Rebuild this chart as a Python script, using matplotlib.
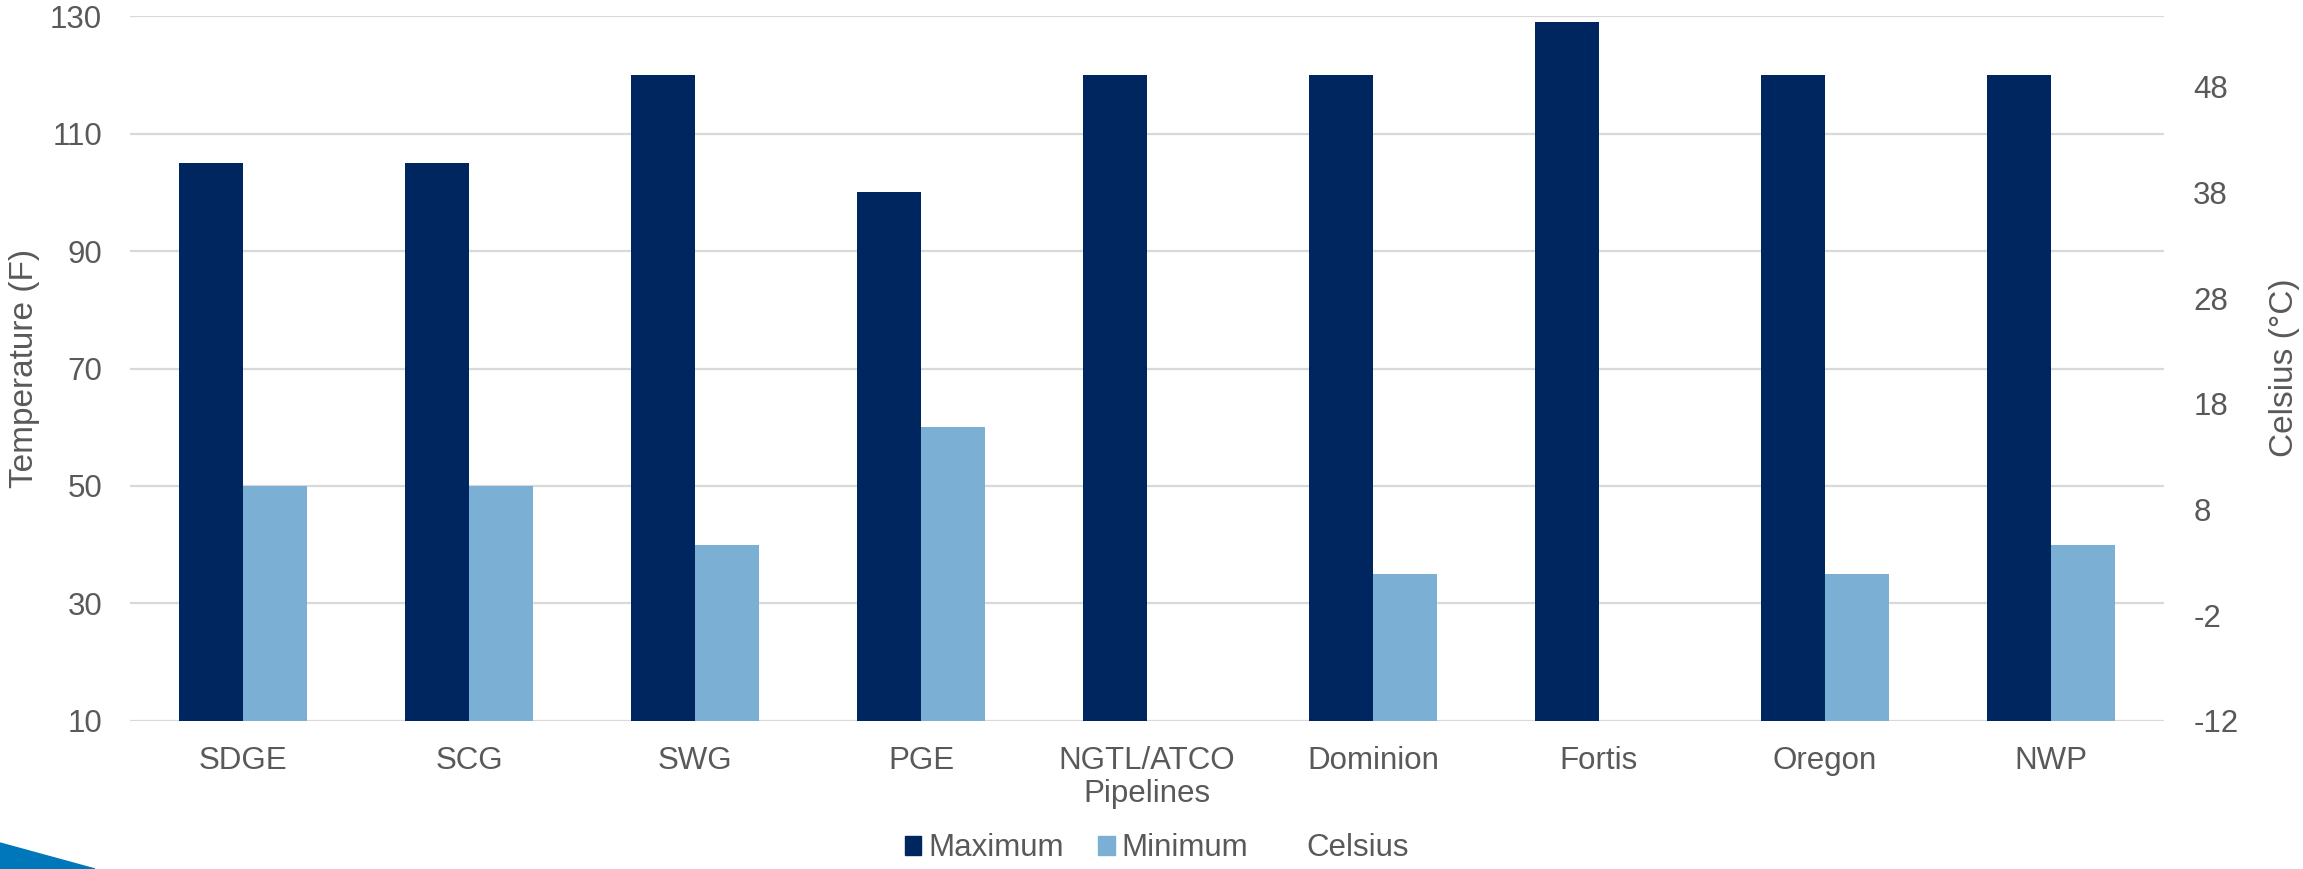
import matplotlib.pyplot as plt
import matplotlib.patches as mpatches
import numpy as np

plt.rcParams['font.family'] = ['Liberation Sans', 'DejaVu Sans']

companies = ['SDGE', 'SCG', 'SWG', 'PGE', 'NGTL/ATCO\nPipelines', 'Dominion', 'Fortis', 'Oregon', 'NWP']
maximum = [105, 105, 120, 100, 120, 120, 129, 120, 120]
minimum = [50, 50, 40, 60, np.nan, 35, np.nan, 35, 40]
f_min, f_max = 10, 130

navy = '#002660'
light = '#7BAFD4'
txt = '#595959'
grid = '#D9D9D9'
fs = 22.5

fig = plt.figure(figsize=(23.03, 8.69), dpi=100)
ax = fig.add_axes([130 / 2303, 1 - 720.7 / 869, (2164 - 130) / 2303, (720.7 - 16.3) / 869])

x = np.arange(len(companies))
w = 0.283
ax.bar(x - w / 2, maximum, w, color=navy, zorder=3)
ax.bar(x + w / 2, minimum, w, color=light, zorder=3)

ax.set_ylim(f_min, f_max)
ax.set_xlim(-0.5, len(companies) - 0.5)
ax.set_yticks(range(10, 131, 20))
ax.set_xticks(x)
ax.set_xticklabels(companies, fontsize=fs, color=txt, linespacing=1.15)
ax.tick_params(axis='y', length=0, pad=20, labelsize=fs, labelcolor=txt)
ax.tick_params(axis='x', length=0, pad=18)
ax.yaxis.grid(True, color=grid, lw=1.6, zorder=0)
for s in ax.spines.values():
    s.set_visible(False)

# celsius axis, same scale as fahrenheit
ax2 = ax.twinx()
c_lo, c_hi = (f_min - 32) / 1.8, (f_max - 32) / 1.8
ax2.set_ylim(c_lo, c_hi)
cticks = c_lo + 10 * np.arange(7)
ax2.set_yticks(cticks)
ax2.set_yticklabels([str(int(round(t))) for t in cticks])
ax2.tick_params(axis='y', length=0, pad=21, labelsize=fs, labelcolor=txt)
for s in ax2.spines.values():
    s.set_visible(False)

ymid = 1 - 368 / 869
fig.text(25 / 2303, ymid, 'Temperature (F)', rotation=90, ha='center', va='center',
         fontsize=24, color=txt)
fig.text(2284 / 2303, ymid, 'Celsius (°C)', rotation=90, ha='center', va='center',
         fontsize=24, color=txt)

handles = [mpatches.Patch(color=navy, label='Maximum'),
           mpatches.Patch(color=light, label='Minimum'),
           mpatches.Patch(color='none', label='Celsius')]
leg = fig.legend(handles=handles, loc='lower center', bbox_to_anchor=(1156.5 / 2303, -0.026),
                 ncol=3, frameon=False, fontsize=fs, handlelength=0.54,
                 handleheight=0.54, handletextpad=0.22, columnspacing=1.09)
for t in leg.get_texts():
    t.set_color(txt)

# blue corner decoration
fig.patches.append(mpatches.Polygon([(0, 0), (0, 26 / 869), (95 / 2303, 0)], closed=True,
                                    transform=fig.transFigure, color='#0077BB'))

fig.savefig('out.png', dpi=100)
